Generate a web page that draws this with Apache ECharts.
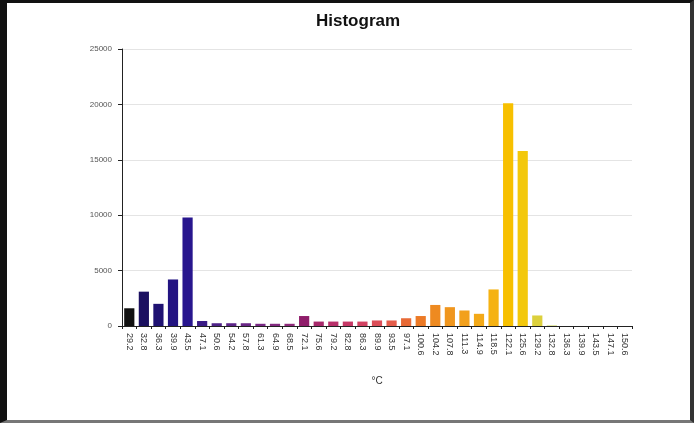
<!DOCTYPE html>
<html>
<head>
<meta charset="utf-8">
<script src="https://cdn.jsdelivr.net/npm/echarts@6/dist/echarts.min.js"></script>
<style>
  html, body { margin: 0; padding: 0; background: #ffffff; }
  #frame {
    position: absolute; left: 0; top: 0; width: 694px; height: 423px;
    box-sizing: border-box;
    border-left: 7px solid #111;
    border-top: 3px solid #111;
    border-right: 4px solid #333;
    border-bottom: 3px solid #777;
  }
  #chart { position: absolute; left: 0; top: 0; width: 694px; height: 423px; }
</style>
</head>
<body>
<div id="chart"></div>
<div id="frame"></div>
<script>
// Bin labels (temperature, °C)
const binLabels = [
  '29.2', '32.8', '36.3', '39.9', '43.5', '47.1', '50.6', '54.2', '57.8', '61.3',
  '64.9', '68.5', '72.1', '75.6', '79.2', '82.8', '86.3', '89.9', '93.5', '97.1',
  '100.6', '104.2', '107.8', '111.3', '114.9', '118.5', '122.1', '125.6', '129.2', '132.8',
  '136.3', '139.9', '143.5', '147.1', '150.6'
];

// Counts per bin
const binCounts = [
  1600, 3100, 2000, 4200, 9800, 450, 250, 250, 250, 200,
  200, 200, 900, 400, 400, 400, 400, 500, 500, 700,
  900, 1900, 1700, 1400, 1100, 3300, 20100, 15800, 950, 50,
  0, 0, 0, 0, 0
];

// Y axis tick values
const yTicks = [0, 5000, 10000, 15000, 20000, 25000];

// Bar colours, running from cold to hot
const binColors = [
  '#111111', '#1b1060', '#1f1272', '#231482', '#28168e', '#3b1c86', '#4e2288', '#5c2488', '#6a2686', '#782884',
  '#842a80', '#8e2a7a', '#8f1d6a', '#a82a6c', '#b8306a', '#c63866', '#d24262', '#dc4e58', '#e45c4a', '#e86a36',
  '#ec7a26', '#ee8a20', '#f0961e', '#f2a01c', '#f3a918', '#f5b212', '#f7c000', '#f3c80c', '#dcd03c', '#cfd860',
  '#d0e070', '#d4e47c', '#d8e888', '#dcec94', '#e0f0a0'
];

const font = 'Liberation Sans, Arial, sans-serif';
const chart = echarts.init(document.getElementById('chart'), null, { renderer: 'canvas' });

chart.setOption({
  animation: false,
  backgroundColor: '#ffffff',
  title: {
    text: 'Histogram',
    left: 311,
    top: 8,
    textStyle: { fontFamily: font, fontSize: 17, fontWeight: 'bold', color: '#111' }
  },
  grid: { left: 122, right: 62, top: 49, bottom: 97, show: false },
  xAxis: {
    type: 'category',
    data: binLabels,
    name: '°C',
    nameLocation: 'middle',
    nameGap: 50,
    nameTextStyle: { fontFamily: font, fontSize: 10, color: '#333' },
    axisLine: { lineStyle: { color: '#222', width: 1 } },
    axisTick: { show: true, length: 3, lineStyle: { color: '#222' } },
    axisLabel: {
      rotate: -90,
      interval: 0,
      margin: 7,
      fontFamily: font,
      fontSize: 9,
      color: '#333'
    },
    splitLine: { show: false }
  },
  yAxis: {
    type: 'value',
    min: yTicks[0],
    max: yTicks[yTicks.length - 1],
    interval: yTicks[1] - yTicks[0],
    axisLine: { show: true, lineStyle: { color: '#222', width: 1 } },
    axisTick: { show: true, length: 4, lineStyle: { color: '#222' } },
    axisLabel: {
      margin: 10,
      formatter: v => String(v),
      fontFamily: font,
      fontSize: 8,
      color: '#555'
    },
    splitLine: { show: true, lineStyle: { color: '#e4e4e4', width: 1 } }
  },
  series: [{
    type: 'bar',
    data: binCounts.map((v, i) => ({ value: v, itemStyle: { color: binColors[i] } })),
    barCategoryGap: '30%'
  }]
});
</script>
</body>
</html>
